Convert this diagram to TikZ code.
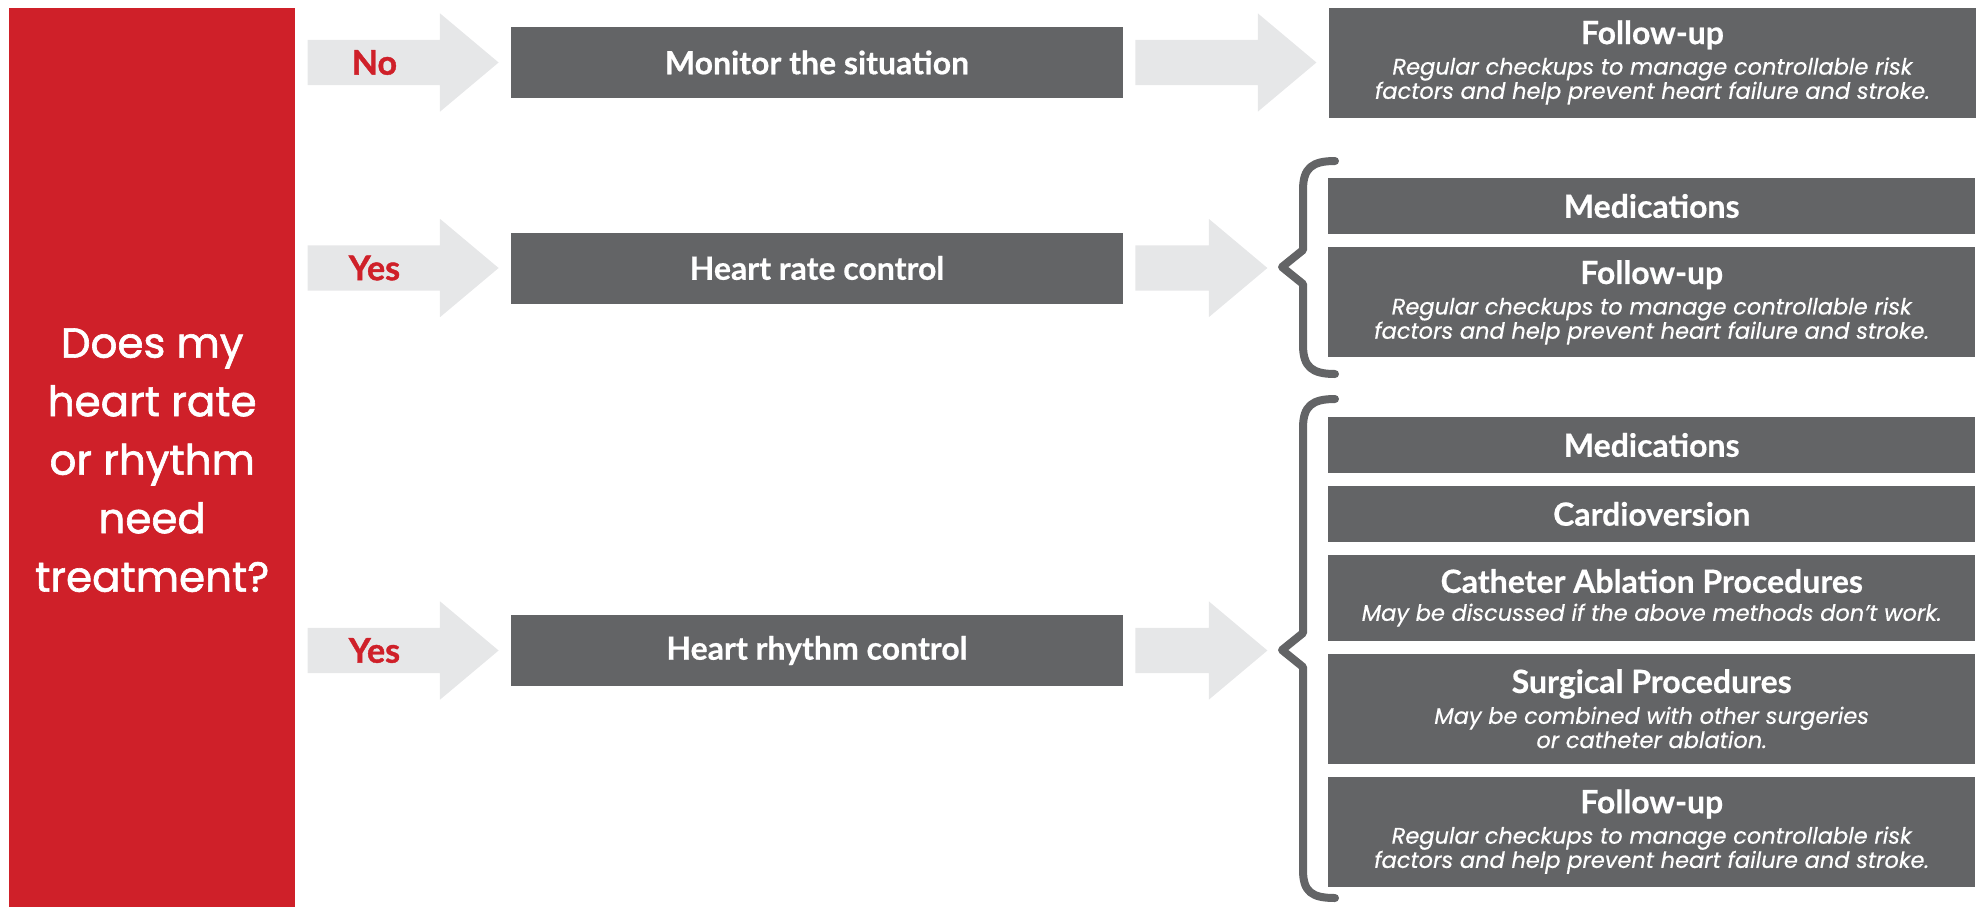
\documentclass[tikz,border=0pt]{standalone}
\usepackage{fontspec}
\usetikzlibrary{positioning,shapes.arrows,calc}
\newfontfamily\boxfont[BoldFeatures={FakeBold=0.5}]{Lato}
\newfontfamily\answerfont[BoldFeatures={FakeBold=1.2}]{Lato}
\newfontfamily\notefont[ItalicFeatures={FakeBold=0.4}]{Poppins}
\newfontfamily\askfont[FakeBold=1.5]{Poppins}
\definecolor{askred}{HTML}{CF2029}
\definecolor{boxgrey}{HTML}{636466}
\definecolor{arrowgrey}{HTML}{E6E7E8}
\newcommand{\boxtitle}[1]{{\boxfont\fontsize{32}{32}\selectfont\bfseries\upshape #1}}
\tikzset{
  midbox/.style={fill=boxgrey, text=white, minimum width=612pt, minimum height=71pt, inner sep=0pt, font=\boxfont\fontsize{32}{32}\selectfont\bfseries},
  sidebox/.style={fill=boxgrey, text=white, minimum width=647pt, inner sep=0pt, align=center, font=\notefont\fontsize{22.5}{22}\selectfont\itshape},
  blockarrow/.style={single arrow, fill=arrowgrey, text height=22.5pt, text depth=22.5pt, single arrow head extend=26.5pt, single arrow tip angle=80, inner sep=0pt, anchor=tail},
  answer/.style={text=askred, font=\answerfont\fontsize{34}{34}\selectfont\bfseries},
  bracket/.style={draw=boxgrey, line width=8pt, line cap=round, line join=round}
}
\begin{document}
\begin{tikzpicture}[x=1pt, y=-1pt]
    \useasboundingbox (0,0) rectangle (1984,906);

    \node[fill=askred, text=white, minimum width=286pt, minimum height=904pt, anchor=north west, align=center, font=\askfont\fontsize{42}{58.5}\selectfont] (ask) at (9,8) {Does my\\heart rate\\or rhythm\\need\\treatment?};

    \node[midbox] (monitor) at (817,62.5) {Monitor the situation};
    \node[midbox] (ratectl) at (817,268) {Heart rate control};
    \node[midbox] (rhythmctl) at (817,650.5) {Heart rhythm control};

    \node[blockarrow, minimum height=191pt] (arrNo) at ($(ask.east |- monitor.west)+(12,0)$) {};
    \node[blockarrow, minimum height=191pt] (arrRate) at ($(ask.east |- ratectl.west)+(12,0)$) {};
    \node[blockarrow, minimum height=191pt] (arrRhythm) at ($(ask.east |- rhythmctl.west)+(12,0)$) {};
    \node[answer] (lblNo) at ($(arrNo.tail)!0.35!(arrNo.tip)$) {No};
    \node[answer] (lblRate) at ($(arrRate.tail)!0.35!(arrRate.tip)$) {Yes};
    \node[answer] (lblRhythm) at ($(arrRhythm.tail)!0.35!(arrRhythm.tip)$) {Yes};

    \node[blockarrow, minimum height=181pt] (arrFu) at ($(monitor.east)+(12,0)$) {};
    \node[blockarrow, minimum height=132pt] (arrMed) at ($(ratectl.east)+(12,0)$) {};
    \node[blockarrow, minimum height=132pt] (arrProc) at ($(rhythmctl.east)+(12,0)$) {};

    \node[sidebox, minimum height=110pt, anchor=west] (fuA) at ($(arrFu.tip)+(12,0)$) {\boxtitle{Follow-up}\\[7pt] Regular checkups to manage controllable risk\\ factors and help prevent heart failure and stroke.};

    \node[sidebox, minimum height=56pt, anchor=west] (medA) at (1328,206) {\boxtitle{Medications}};
    \node[sidebox, minimum height=110pt, below=13pt of medA] (fuB) {\boxtitle{Follow-up}\\[7pt] Regular checkups to manage controllable risk\\ factors and help prevent heart failure and stroke.};

    \node[sidebox, minimum height=56pt, anchor=west] (medB) at (1328,445) {\boxtitle{Medications}};
    \node[sidebox, minimum height=56pt, below=12.5pt of medB] (cardio) {\boxtitle{Cardioversion}};
    \node[sidebox, minimum height=86pt, below=12.5pt of cardio] (ablation) {\boxtitle{Catheter Ablation Procedures}\\[6pt] May be discussed if the above methods don’t work.};
    \node[sidebox, minimum height=110pt, below=12.5pt of ablation] (surgery) {\boxtitle{Surgical Procedures}\\[7pt] May be combined with other surgeries\\ or catheter ablation.};
    \node[sidebox, minimum height=110pt, below=12.5pt of surgery] (fuC) {\boxtitle{Follow-up}\\[7pt] Regular checkups to manage controllable risk\\ factors and help prevent heart failure and stroke.};

    \draw[bracket] (1335,161) .. controls (1312,161) and (1303,168) .. (1303,190) -- (1303,250) -- (1282,267) -- (1303,284) -- (1303,345) .. controls (1303,367) and (1312,374) .. (1335,374);
    \draw[bracket] (1335,399) .. controls (1312,399) and (1303,406) .. (1303,428) -- (1303,633) -- (1282,650) -- (1303,667) -- (1303,870) .. controls (1303,892) and (1312,898) .. (1335,898);
\end{tikzpicture}
\end{document}
